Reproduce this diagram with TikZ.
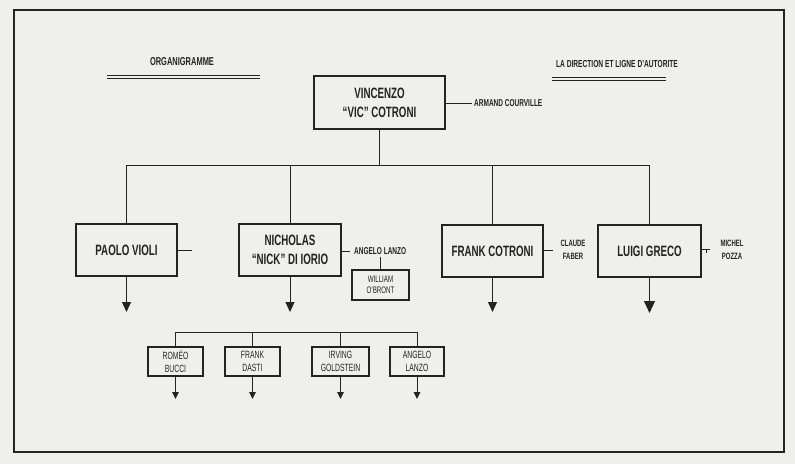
\documentclass[tikz,border=0pt]{standalone}
\usepackage{fontspec}
\setmainfont{Liberation Sans}[FakeStretch=0.65]
\usetikzlibrary{arrows.meta}
\definecolor{paper}{HTML}{EFEFEC}
\definecolor{ink}{HTML}{232323}
\tikzset{
  bigbox/.style={draw=ink, line width=1.3pt, fill=paper, inner sep=0pt, align=center,
    text=ink, font=\bfseries\fontsize{15}{19}\selectfont},
  smallbox/.style={draw=ink, line width=1.1pt, fill=paper, inner sep=0pt, align=center,
    text=ink, font=\fontsize{10.5}{12.5}\selectfont},
  lbl/.style={inner sep=0pt, align=center, text=ink, font=\bfseries\fontsize{10}{14}\selectfont},
  conn/.style={draw=ink, line width=1pt},
  arr/.style={draw=ink, line width=1pt, -{Triangle[width=9pt,length=10pt]}},
  sarr/.style={draw=ink, line width=0.9pt, -{Triangle[width=6.5pt,length=7pt]}},
}
\begin{document}
\begin{tikzpicture}[x=1pt,y=-1pt]
\useasboundingbox (0,0) rectangle (795,464);
\fill[paper] (0,0) rectangle (795,464);
\draw[ink, line width=1.3pt] (14,10) rectangle (784,452);

% titles
\node[lbl, font=\bfseries\fontsize{11.5}{14}\selectfont] (orgt) at (182,62) {ORGANIGRAMME};
\coordinate (u1a) at (107,75); \coordinate (u1b) at (260,75);
\coordinate (u1c) at (107,78.5); \coordinate (u1d) at (260,78.5);
\draw[ink, line width=0.8pt] (u1a) -- (u1b);
\draw[ink, line width=1.3pt] (u1c) -- (u1d);
\node[lbl, font=\bfseries\fontsize{10.2}{14}\selectfont] (dirt) at (617,64) {LA DIRECTION ET LIGNE D'AUTORITE};
\coordinate (u2a) at (552,77); \coordinate (u2b) at (666,77);
\coordinate (u2c) at (552,80.5); \coordinate (u2d) at (666,80.5);
\draw[ink, line width=0.8pt] (u2a) -- (u2b);
\draw[ink, line width=1.3pt] (u2c) -- (u2d);

% top
\node[bigbox, minimum width=131pt, minimum height=53pt] (vic) at (379.5,102.5) {VINCENZO\\``VIC'' COTRONI};
\node[lbl, anchor=west] (armand) at (474,103) {ARMAND COURVILLE};
\coordinate (astub) at (472,103);
\draw[conn] (vic.east |- astub) -- (astub);

% level 2
\node[bigbox, minimum width=101pt, minimum height=52pt] (paolo) at (126.5,250) {PAOLO VIOLI};
\node[bigbox, minimum width=102pt, minimum height=52pt] (nick) at (290,250) {NICHOLAS\\``NICK'' DI IORIO};
\node[bigbox, minimum width=101pt, minimum height=52pt] (frank) at (492.5,251) {FRANK COTRONI};
\node[bigbox, minimum width=103pt, minimum height=52pt] (luigi) at (649.5,251) {LUIGI GRECO};

\coordinate (busL) at (126.5,165);
\coordinate (busR) at (649.5,165);
\draw[conn] (vic.south) -- (vic.south |- busL);
\draw[conn] (busL) -- (busR);
\draw[conn] (paolo.north) -- (paolo.north |- busL);
\draw[conn] (nick.north) -- (nick.north |- busL);
\draw[conn] (frank.north) -- (frank.north |- busL);
\draw[conn] (luigi.north) -- (luigi.north |- busL);

% side labels
\coordinate (pstub) at (192,250);
\draw[conn] (paolo.east) -- (pstub);

\node[lbl, anchor=west] (angelo) at (354,251) {ANGELO LANZO};
\coordinate (nstub) at (350,251);
\draw[conn] (nick.east |- nstub) -- (nstub);
\node[smallbox, font=\fontsize{9.5}{11.5}\selectfont, minimum width=57pt, minimum height=30pt] (william) at (380.5,285) {WILLIAM\\O'BRONT};
\draw[conn] (william.north) -- ([yshift=-2pt]william.north |- angelo.south);

\node[lbl, font=\bfseries\fontsize{9.2}{13.5}\selectfont] (claude) at (573,250) {CLAUDE\\FABER};
\coordinate (fstub) at (553,250);
\draw[conn] (frank.east |- fstub) -- (fstub);

\node[lbl, font=\bfseries\fontsize{9.2}{13.5}\selectfont] (michel) at (732,250) {MICHEL\\POZZA};
\coordinate (lstub) at (710,249);
\coordinate (ltick) at (706,249);
\coordinate (ltickb) at (706,253);
\draw[conn] (luigi.east |- lstub) -- (lstub);
\draw[ink, line width=0.8pt] (ltick) -- (ltickb);

% arrows level 2
\coordinate (pa) at (126.5,312);
\coordinate (na) at (290,312);
\coordinate (fa) at (492.5,312);
\coordinate (la) at (649.5,313);
\draw[arr] (paolo.south) -- (pa);
\draw[arr] (nick.south) -- (na);
\draw[arr] (frank.south) -- (fa);
\draw[arr, -{Triangle[width=11pt,length=12pt]}] (luigi.south) -- (la);

% level 3
\node[smallbox, minimum width=55pt, minimum height=29pt] (romeo) at (175.5,361.5) {ROMÉO\\BUCCI};
\node[smallbox, minimum width=55pt, minimum height=29pt] (dasti) at (252.5,361.5) {FRANK\\DASTI};
\node[smallbox, minimum width=57pt, minimum height=29pt] (irving) at (340.5,361.5) {IRVING\\GOLDSTEIN};
\node[smallbox, minimum width=54pt, minimum height=29pt] (lanzo) at (417,361.5) {ANGELO\\LANZO};

\coordinate (b3L) at (175.5,332);
\coordinate (b3R) at (417,332);
\draw[conn] (b3L) -- (b3R);
\draw[conn] (romeo.north) -- (romeo.north |- b3L);
\draw[conn] (dasti.north) -- (dasti.north |- b3L);
\draw[conn] (irving.north) -- (irving.north |- b3L);
\draw[conn] (lanzo.north) -- (lanzo.north |- b3L);

\coordinate (ra) at (175.5,399);
\coordinate (da) at (252.5,399);
\coordinate (ia) at (340.5,399);
\coordinate (za) at (417,399);
\draw[sarr] (romeo.south) -- (ra);
\draw[sarr] (dasti.south) -- (da);
\draw[sarr] (irving.south) -- (ia);
\draw[sarr] (lanzo.south) -- (za);
\end{tikzpicture}
\end{document}
